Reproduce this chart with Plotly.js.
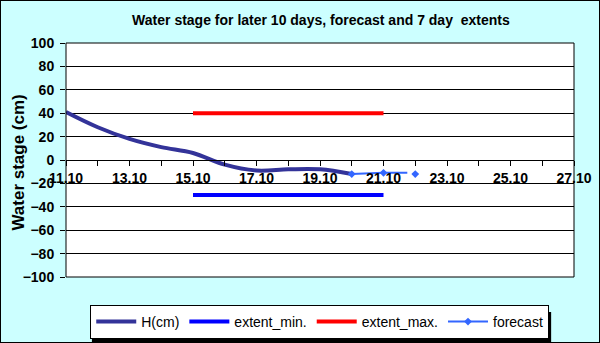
<!DOCTYPE html>
<html>
<head>
<meta charset="utf-8">
<script src="https://cdn.plot.ly/plotly-3.0.1.min.js"></script>
<style>
html,body{margin:0;padding:0;}
#chart{width:600px;height:343px;box-sizing:border-box;border:1px solid #000;background:#CCFFFF;}
</style>
</head>
<body>
<div id="chart"></div>
<script>
// Days of October (numeric x positions)
const hDays = [11, 12, 13, 14, 15, 16, 17, 18, 19, 20];
const hValues = [41, 28, 18, 11, 6, -4, -9, -8, -8, -12];

const extentDays = [15, 21];
const extentMin = [-30, -30];
const extentMax = [40, 40];

const forecastDays = [20, 21, 21.75, null, 22];
const forecastValues = [-12, -11, -11, null, -12];

const tickDays = [11, 13, 15, 17, 19, 21, 23, 25, 27];
const tickLabels = ['11.10', '13.10', '15.10', '17.10', '19.10', '21.10', '23.10', '25.10', '27.10'];
const minorDays = [12, 14, 16, 18, 20, 22, 24, 26];
const yTicks = [100, 80, 60, 40, 20, 0, -20, -40, -60, -80, -100];

const titleText = 'Water stage for later 10 days, forecast and 7 day  extents';
const yTitle = 'Water stage (cm)';

const F = 'Liberation Sans, Arial, sans-serif';
const FC = '#3366FF';
const NONE = 'rgba(0,0,0,0)';

const traces = [
  {x: hDays, y: hValues, name: 'H(cm)', mode: 'lines',
   line: {color: '#333399', width: 4, shape: 'spline', smoothing: 1}},
  {x: extentDays, y: extentMin, name: 'extent_min.', mode: 'lines',
   line: {color: '#0000FF', width: 4}},
  {x: extentDays, y: extentMax, name: 'extent_max.', mode: 'lines',
   line: {color: '#FF0000', width: 4}},
  {x: forecastDays, y: forecastValues, name: 'forecast', mode: 'lines+markers',
   line: {color: FC, width: 2},
   marker: {symbol: 'diamond', size: 6, color: [FC, FC, NONE, NONE, FC]},
   connectgaps: false}
];

const layout = {
  width: 598, height: 341,
  margin: {l: 65, r: 25, t: 42, b: 65, pad: 0, autoexpand: false},
  paper_bgcolor: '#CCFFFF',
  plot_bgcolor: '#FFFFFF',
  font: {family: F, size: 12, color: '#000'},
  title: {text: '<b>' + titleText + '</b>', font: {family: F, size: 14, color: '#000'},
          x: 0.535, xanchor: 'center', y: 0.945, yanchor: 'middle'},
  showlegend: true,
  legend: {orientation: 'h', x: 0.4995, xanchor: 'center', y: -0.265, yanchor: 'bottom',
           bgcolor: '#FFFFFF', bordercolor: '#000', borderwidth: 1,
           font: {family: F, size: 14, color: '#000'}, itemwidth: 40,
           traceorder: 'normal'},
  xaxis: {
    range: [11, 27], anchor: 'free', position: 0.5,
    tickmode: 'array', tickvals: tickDays, ticktext: tickLabels,
    ticks: 'outside', ticklen: 5, tickcolor: '#000', tickwidth: 1,
    minor: {tickmode: 'array', tickvals: minorDays, ticks: 'outside', ticklen: 5, tickcolor: '#000', tickwidth: 1},
    showline: true, linecolor: '#000', linewidth: 1,
    showgrid: false, zeroline: false,
    tickfont: {family: F, size: 14, color: '#000', weight: 'bold'},
    automargin: false, fixedrange: true
  },
  yaxis: {
    range: [-100, 100], tickmode: 'array', tickvals: yTicks,
    ticks: 'outside', ticklen: 5, tickcolor: '#000',
    showgrid: true, gridcolor: '#000', gridwidth: 1,
    zeroline: false, showline: false,
    tickfont: {family: F, size: 14, color: '#000', weight: 'bold'},
    ticklabelstandoff: 3,
    automargin: false, fixedrange: true
  },
  annotations: [
    {text: '<b>' + yTitle + '</b>', textangle: -90, xref: 'paper', yref: 'paper',
     x: -0.094, y: 0.49, xanchor: 'center', yanchor: 'middle', showarrow: false,
     font: {family: F, size: 17, color: '#000'}}
  ],
  shapes: [
    {type: 'rect', xref: 'paper', yref: 'paper', x0: 0, x1: 1, y0: 0, y1: 1,
     line: {color: '#000', width: 1}, fillcolor: 'rgba(0,0,0,0)', layer: 'above'},
    {type: 'rect', xref: 'paper', yref: 'paper', x0: 0.051, x1: 0.955, y0: -0.15, y1: -0.282,
     line: {width: 0}, fillcolor: '#000', layer: 'above'}
  ]
};

Plotly.newPlot('chart', traces, layout, {displayModeBar: false, staticPlot: true});
</script>
</body>
</html>
